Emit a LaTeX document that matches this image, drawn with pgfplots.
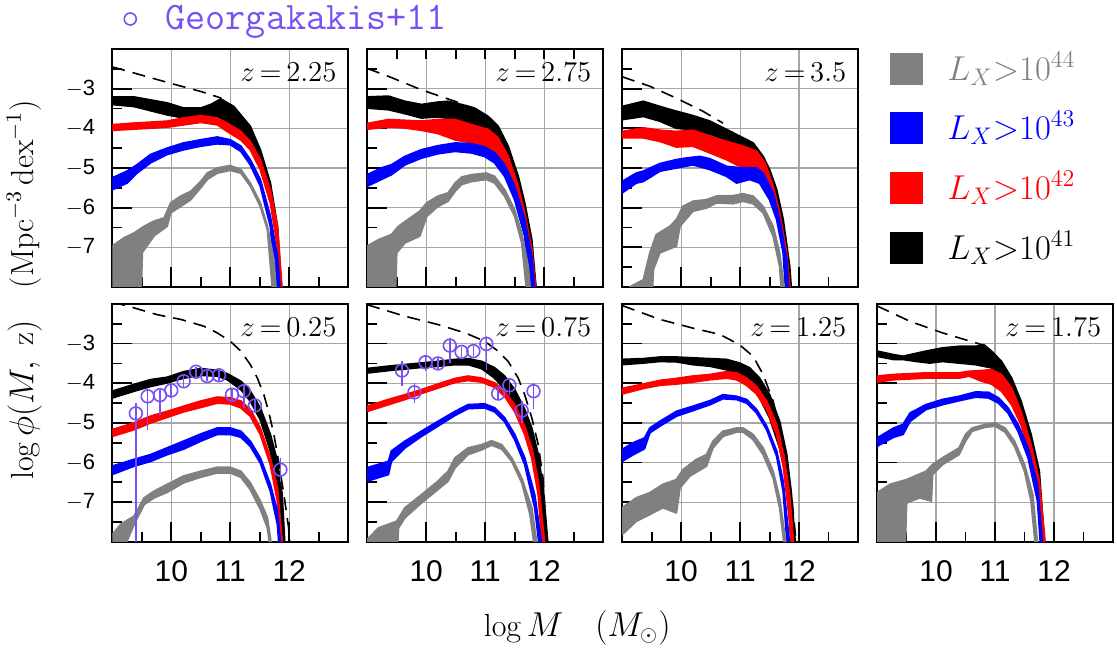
\documentclass[border=0pt]{standalone}
\usepackage{fontspec}
\usepackage{pgfplots}
\pgfplotsset{compat=1.18}
\setsansfont{Liberation Sans}
\definecolor{gk}{RGB}{120,80,245}
\definecolor{bgray}{RGB}{128,128,128}
\definecolor{bblue}{RGB}{0,0,255}
\definecolor{bred}{RGB}{255,0,0}
\pgfplotsset{
 panel/.style={
  scale only axis, width=118pt, height=119pt, anchor=south west,
  xmin=9, xmax=13, ymin=-8, ymax=-2,
  xtick={10,11,12}, ytick={-7,-6,-5,-4,-3},
  minor xtick={9.5,10.5,11.5,12.5},
  minor ytick={-7.5,-6.5,-5.5,-4.5,-3.5,-2.5},
  tick pos=left, tick align=inside,
  major tick length=10pt, minor tick length=5pt,
  xmajorgrids, ymajorgrids,
  major grid style={draw=black!35, line width=0.6pt},
  axis line style={line width=1.1pt},
  every tick/.append style={black, line width=0.9pt},
  xticklabels={}, yticklabels={},
  xticklabel style={font=\sffamily\fontsize{15}{15}\selectfont, anchor=center, yshift=-14.5pt},
  yticklabel style={font=\sffamily\fontsize{11}{11}\selectfont, anchor=east, xshift=-5pt},
 },
 xlab/.style={xticklabels={10,11,12}},
 ylab/.style={yticklabels={$-$7,$-$6,$-$5,$-$4,$-$3}},
 bgr/.style={fill=bgray, draw=bgray, line width=0.9pt, line join=round},
 bbl/.style={fill=bblue, draw=bblue, line width=0.9pt, line join=round},
 brd/.style={fill=bred, draw=bred, line width=0.9pt, line join=round},
 bbk/.style={fill=black, draw=black, line width=0.9pt, line join=round},
 dsh/.style={black, line width=0.8pt, dash pattern=on 6.5pt off 4pt, no marks},
 geo/.style={gk, only marks, mark=o, mark size=3.2pt, line width=0.8pt,
   error bars/.cd, y dir=both, y explicit, error mark=none,
   error bar style={line width=0.8pt, gk}},
}
\newcommand{\zlab}[1]{\node[anchor=east, font=\fontsize{14}{14}\selectfont] at (rel axis cs:0.98,0.903) {$z\,{=}\,#1$};}
\begin{document}
\begin{tikzpicture}
\path (0,0) rectangle (558.5pt,-324pt);
% ---------- z=2.25
\begin{axis}[panel, ylab, at={(56pt,-143.5pt)}]
\addplot[bbk] coordinates {(9,-3.21) (9.37,-3.21) (9.93,-3.36) (10.21,-3.49) (10.5,-3.49) (10.67,-3.40) (10.84,-3.26) (11.06,-3.45) (11.34,-3.95) (11.51,-4.54) (11.68,-5.38) (11.80,-6.47) (11.89,-8.5)
 (11.86,-8.5) (11.80,-6.6) (11.68,-5.6) (11.51,-4.85) (11.34,-4.35) (11.18,-4.1) (10.95,-3.87) (10.78,-3.78) (10.5,-3.70) (10.21,-3.74) (9.93,-3.66) (9.37,-3.45) (9,-3.40)};
\addplot[brd] coordinates {(9,-3.91) (9.37,-3.87) (9.93,-3.82) (10.21,-3.74) (10.5,-3.68) (10.78,-3.74) (10.95,-3.87) (11.18,-4.08) (11.34,-4.33) (11.51,-4.79) (11.68,-5.55) (11.80,-6.47) (11.90,-8.5)
 (11.85,-8.5) (11.80,-6.97) (11.68,-5.88) (11.51,-5.04) (11.34,-4.54) (11.18,-4.29) (10.95,-4.08) (10.78,-3.91) (10.5,-3.85) (9.93,-3.97) (9.37,-4.02) (9,-4.05)};
\addplot[bbl] coordinates {(9,-5.25) (9.25,-5.08) (9.42,-4.92) (9.65,-4.66) (9.93,-4.50) (10.21,-4.37) (10.5,-4.29) (10.78,-4.22) (11.0,-4.29) (11.18,-4.45) (11.34,-4.79) (11.51,-5.29) (11.68,-6.22) (11.80,-7.23) (11.87,-8.5)
 (11.80,-8.5) (11.68,-6.47) (11.51,-5.46) (11.34,-4.92) (11.18,-4.58) (11.0,-4.41) (10.78,-4.39) (10.5,-4.45) (10.21,-4.54) (9.93,-4.66) (9.65,-4.87) (9.42,-5.13) (9.25,-5.38) (9,-5.55)};
\addplot[bgr] coordinates {(9,-6.97) (9.2,-6.76) (9.37,-6.64) (9.54,-6.47) (9.71,-6.34) (9.88,-6.26) (9.99,-5.88) (10.16,-5.71) (10.33,-5.59) (10.5,-5.34) (10.61,-5.13) (10.78,-5.0) (11.0,-4.94) (11.18,-5.04) (11.34,-5.38) (11.51,-5.88) (11.63,-6.47) (11.74,-7.31) (11.80,-8.5)
 (11.74,-8.5) (11.63,-6.55) (11.51,-5.97) (11.34,-5.46) (11.18,-5.13) (11.0,-5.06) (10.78,-5.13) (10.61,-5.29) (10.5,-5.50) (10.33,-5.80) (10.16,-5.97) (9.99,-6.13) (9.93,-6.47) (9.71,-6.71) (9.51,-7.13) (9.48,-8.5) (9,-8.5)};
\addplot[dsh] coordinates {(9,-2.45) (9.5,-2.66) (10,-2.87) (10.5,-3.07) (10.85,-3.24)};
\zlab{2.25}
\end{axis}
% ---------- z=2.75
\begin{axis}[panel, at={(183.5pt,-143.5pt)}]
\addplot[bbk] coordinates {(9,-3.21) (9.36,-3.19) (9.64,-3.32) (9.92,-3.40) (10.20,-3.34) (10.37,-3.32) (10.60,-3.40) (10.82,-3.49) (11.05,-3.70) (11.22,-3.95) (11.39,-4.45) (11.56,-5.21) (11.67,-5.88) (11.79,-6.81) (11.89,-8.5)
 (11.84,-8.5) (11.79,-7.31) (11.67,-6.30) (11.56,-5.55) (11.39,-4.79) (11.22,-4.29) (11.05,-4.03) (10.77,-3.91) (10.49,-3.78) (10.20,-3.71) (9.92,-3.74) (9.64,-3.63) (9.36,-3.53) (9,-3.49)};
\addplot[brd] coordinates {(9,-3.88) (9.36,-3.78) (9.64,-3.80) (9.92,-3.82) (10.20,-3.78) (10.49,-3.78) (10.77,-3.91) (11.05,-4.03) (11.22,-4.24) (11.39,-4.71) (11.56,-5.46) (11.67,-6.13) (11.79,-7.06) (11.89,-8.5)
 (11.84,-8.5) (11.79,-7.48) (11.67,-6.47) (11.50,-5.55) (11.33,-4.96) (11.16,-4.66) (10.99,-4.45) (10.77,-4.37) (10.49,-4.29) (10.20,-4.13) (9.92,-4.05) (9.64,-3.99) (9.36,-3.97) (9,-4.02)};
\addplot[bbl] coordinates {(9,-5.17) (9.24,-5.0) (9.41,-4.92) (9.64,-4.71) (9.92,-4.54) (10.20,-4.44) (10.49,-4.37) (10.77,-4.39) (10.99,-4.47) (11.16,-4.62) (11.33,-4.92) (11.50,-5.46) (11.67,-6.30) (11.79,-7.23) (11.87,-8.5)
 (11.79,-8.5) (11.67,-6.72) (11.50,-5.80) (11.33,-5.21) (11.16,-4.87) (10.99,-4.71) (10.77,-4.62) (10.49,-4.58) (10.20,-4.64) (9.92,-4.75) (9.64,-4.92) (9.41,-5.17) (9.24,-5.29) (9,-5.46)};
\addplot[bgr] coordinates {(9,-6.97) (9.19,-6.81) (9.41,-6.68) (9.53,-6.47) (9.69,-6.30) (9.89,-6.09) (10.01,-5.88) (10.20,-5.71) (10.37,-5.63) (10.49,-5.38) (10.60,-5.23) (10.77,-5.17) (11.02,-5.13) (11.16,-5.21) (11.33,-5.55) (11.50,-6.05) (11.62,-6.64) (11.73,-7.48) (11.79,-8.5)
 (11.73,-8.5) (11.62,-6.89) (11.50,-6.22) (11.33,-5.71) (11.16,-5.38) (11.02,-5.29) (10.77,-5.34) (10.60,-5.42) (10.49,-5.59) (10.37,-5.84) (10.20,-5.97) (10.01,-6.22) (9.89,-6.72) (9.64,-6.89) (9.50,-7.14) (9.47,-8.5) (9,-8.5)};
\addplot[dsh] coordinates {(9,-2.49) (9.36,-2.69) (9.92,-3.03) (10.49,-3.32) (10.8,-3.50)};
\zlab{2.75}
\end{axis}
\begin{axis}[at={(183.5pt,-143.5pt)}, anchor=south west, scale only axis, width=118pt, height=119pt,
  xmin=9, xmax=13, ymin=-8, ymax=-2, axis x line*=top, axis y line=none,
  xtick={9.5,10,10.5,11,11.5,12,12.5}, xticklabels={}, tick align=inside,
  major tick length=5pt, every tick/.append style={black, line width=0.9pt},
  axis line style={draw=none}]
\end{axis}
% ---------- z=3.5
\begin{axis}[panel, at={(311pt,-143.5pt)}]
\addplot[bbk] coordinates {(9,-3.45) (9.36,-3.32) (9.64,-3.45) (9.92,-3.57) (10.20,-3.68) (10.49,-3.82) (10.77,-4.03) (11.05,-4.24) (11.22,-4.37) (11.39,-4.71) (11.50,-5.04) (11.62,-5.55) (11.73,-6.30) (11.84,-7.48) (11.89,-8.5)
 (11.81,-8.5) (11.73,-6.7) (11.62,-5.9) (11.50,-5.3) (11.33,-4.79) (11.05,-4.45) (10.77,-4.30) (10.49,-4.15) (10.20,-4.03) (9.92,-4.0) (9.64,-3.82) (9.36,-3.70) (9,-3.78)};
\addplot[brd] coordinates {(9,-4.08) (9.36,-3.99) (9.64,-4.05) (9.92,-4.08) (10.20,-4.05) (10.49,-4.20) (10.77,-4.33) (11.05,-4.45) (11.28,-4.58) (11.42,-4.87) (11.56,-5.46) (11.67,-6.13) (11.79,-7.14) (11.87,-8.5)
 (11.84,-8.5) (11.79,-7.56) (11.67,-6.47) (11.56,-5.71) (11.39,-5.13) (11.16,-5.04) (10.94,-4.92) (10.77,-4.79) (10.49,-4.62) (10.20,-4.45) (9.92,-4.47) (9.64,-4.33) (9.36,-4.24) (9,-4.24)};
\addplot[bbl] coordinates {(9,-5.34) (9.24,-5.13) (9.36,-5.08) (9.64,-4.89) (9.92,-4.79) (10.09,-4.75) (10.32,-4.71) (10.49,-4.77) (10.77,-4.96) (11.05,-5.0) (11.28,-5.0) (11.39,-5.13) (11.56,-5.63) (11.67,-6.30) (11.79,-7.31) (11.84,-8.5)
 (11.79,-8.5) (11.73,-7.14) (11.62,-6.30) (11.50,-5.80) (11.33,-5.38) (11.16,-5.29) (10.94,-5.38) (10.77,-5.21) (10.49,-5.04) (10.20,-4.92) (9.92,-5.0) (9.64,-5.08) (9.36,-5.34) (9.24,-5.38) (9,-5.63)};
\addplot[bgr] coordinates {(9.13,-8.5) (9.13,-8.0) (9.36,-7.82) (9.47,-7.14) (9.58,-6.68) (9.81,-6.47) (9.92,-6.30) (10.03,-5.97) (10.20,-5.84) (10.43,-5.80) (10.60,-5.71) (10.88,-5.70) (11.05,-5.65) (11.22,-5.71) (11.39,-5.97) (11.56,-6.47) (11.67,-7.14) (11.79,-8.5)
 (11.72,-8.5) (11.67,-7.48) (11.56,-6.72) (11.39,-6.13) (11.22,-5.90) (11.05,-5.84) (10.88,-5.90) (10.60,-5.88) (10.43,-6.01) (10.20,-6.09) (9.98,-6.47) (9.92,-6.97) (9.64,-7.14) (9.53,-7.56) (9.50,-8.5)};
\addplot[dsh] coordinates {(9,-2.70) (9.47,-2.94) (9.92,-3.24) (10.37,-3.57) (10.71,-3.87)};
\zlab{3.5}
\end{axis}
% ---------- z=0.25
\begin{axis}[panel, xlab, ylab, at={(56pt,-271pt)}]
\addplot[bbk] coordinates {(9,-4.20) (9.37,-4.03) (9.65,-3.91) (9.93,-3.85) (10.21,-3.71) (10.5,-3.63) (10.78,-3.68) (10.95,-3.76) (11.18,-3.95) (11.34,-4.20) (11.51,-4.62) (11.68,-5.29) (11.80,-5.97) (11.88,-6.81) (11.94,-8.5)
 (11.88,-8.5) (11.80,-6.55) (11.68,-5.71) (11.51,-4.92) (11.34,-4.45) (11.18,-4.16) (10.95,-3.91) (10.78,-3.82) (10.5,-3.80) (10.21,-3.87) (9.93,-3.99) (9.65,-4.08) (9.37,-4.20) (9,-4.37)};
\addplot[brd] coordinates {(9,-5.17) (9.37,-5.0) (9.65,-4.83) (9.93,-4.71) (10.21,-4.58) (10.5,-4.45) (10.78,-4.35) (11.0,-4.37) (11.18,-4.45) (11.34,-4.66) (11.51,-5.13) (11.68,-5.88) (11.80,-6.64) (11.91,-8.5)
 (11.88,-8.5) (11.80,-6.97) (11.68,-6.05) (11.51,-5.29) (11.34,-4.83) (11.18,-4.62) (11.0,-4.52) (10.78,-4.50) (10.5,-4.61) (10.21,-4.72) (9.93,-4.86) (9.65,-5.0) (9.37,-5.17) (9,-5.34)};
\addplot[bbl] coordinates {(9,-6.09) (9.37,-5.92) (9.65,-5.80) (9.93,-5.63) (10.21,-5.46) (10.5,-5.28) (10.78,-5.13) (11.0,-5.13) (11.18,-5.21) (11.34,-5.46) (11.51,-5.88) (11.68,-6.55) (11.80,-7.23) (11.88,-8.5)
 (11.85,-8.5) (11.80,-7.56) (11.68,-6.72) (11.51,-6.01) (11.34,-5.59) (11.18,-5.36) (11.0,-5.29) (10.78,-5.29) (10.5,-5.46) (10.21,-5.66) (9.93,-5.80) (9.65,-5.97) (9.37,-6.09) (9,-6.30)};
\addplot[bgr] coordinates {(9,-7.82) (9.14,-7.56) (9.37,-7.35) (9.54,-6.89) (9.71,-6.72) (9.93,-6.55) (10.21,-6.34) (10.5,-6.22) (10.78,-6.12) (11.0,-6.12) (11.18,-6.22) (11.34,-6.51) (11.51,-6.97) (11.63,-7.39) (11.74,-8.5)
 (11.71,-8.5) (11.63,-7.65) (11.51,-7.18) (11.34,-6.68) (11.18,-6.37) (11.0,-6.26) (10.78,-6.26) (10.5,-6.37) (10.21,-6.51) (9.93,-6.75) (9.71,-6.89) (9.54,-7.06) (9.37,-7.56) (9.1,-8.5) (9,-8.5)};
\addplot[dsh] coordinates {(9,-1.95) (9.37,-2.10) (9.76,-2.27) (10.16,-2.39) (10.55,-2.56) (10.78,-2.73) (11.0,-2.94) (11.18,-3.19) (11.34,-3.53) (11.46,-3.87) (11.57,-4.29) (11.65,-4.71) (11.74,-5.29) (11.82,-5.97) (11.91,-6.81) (11.99,-7.65) (12.03,-8.5)};
\addplot[geo] table[x index=0, y index=1, y error plus index=2, y error minus index=3] {
9.40 -4.76 0.25 4.50
9.60 -4.33 0.21 0.84
9.81 -4.30 0.14 0.49
10.00 -4.18 0.15 0.19
10.21 -3.95 0.15 0.15
10.42 -3.71 0.13 0.13
10.61 -3.82 0.13 0.13
10.81 -3.80 0.14 0.14
11.03 -4.29 0.14 0.14
11.23 -4.20 0.17 0.42
11.42 -4.56 0.13 0.13
11.85 -6.18 0.30 0.30
};
\zlab{0.25}
\end{axis}
% ---------- z=0.75
\begin{axis}[panel, xlab, at={(183.5pt,-271pt)}]
\addplot[bbk] coordinates {(9,-3.63) (9.36,-3.57) (9.92,-3.49) (10.20,-3.45) (10.49,-3.40) (10.71,-3.38) (10.94,-3.45) (11.16,-3.61) (11.33,-3.82) (11.50,-4.16) (11.67,-4.66) (11.79,-5.13) (11.90,-5.80) (11.98,-6.64) (12.09,-8.5)
 (12.0,-8.5) (11.90,-6.64) (11.79,-5.71) (11.67,-5.13) (11.50,-4.54) (11.33,-4.16) (11.16,-3.87) (10.94,-3.63) (10.71,-3.53) (10.49,-3.53) (10.20,-3.57) (9.92,-3.60) (9.36,-3.68) (9,-3.74)};
\addplot[brd] coordinates {(9,-4.58) (9.36,-4.41) (9.64,-4.29) (9.92,-4.16) (10.20,-4.02) (10.49,-3.88) (10.71,-3.82) (10.94,-3.87) (11.16,-3.99) (11.33,-4.20) (11.50,-4.54) (11.67,-5.08) (11.79,-5.63) (11.90,-6.47) (12.04,-8.5)
 (11.99,-8.5) (11.90,-6.81) (11.79,-5.88) (11.67,-5.29) (11.50,-4.71) (11.33,-4.33) (11.16,-4.10) (10.94,-3.97) (10.71,-3.93) (10.49,-3.98) (10.20,-4.12) (9.92,-4.26) (9.64,-4.41) (9.36,-4.54) (9,-4.71)};
\addplot[bbl] coordinates {(9,-6.13) (9.36,-5.97) (9.41,-5.71) (9.64,-5.46) (9.92,-5.21) (10.20,-4.96) (10.49,-4.71) (10.71,-4.54) (10.99,-4.52) (11.16,-4.62) (11.33,-4.87) (11.50,-5.29) (11.67,-5.88) (11.84,-6.81) (12.0,-8.5)
 (11.95,-8.5) (11.84,-7.14) (11.67,-6.05) (11.50,-5.42) (11.33,-4.97) (11.16,-4.72) (10.99,-4.62) (10.71,-4.64) (10.49,-4.81) (10.20,-5.08) (9.92,-5.34) (9.64,-5.63) (9.41,-5.97) (9.36,-6.30) (9,-6.47)};
\addplot[bgr] coordinates {(9,-7.94) (9.19,-7.65) (9.50,-7.48) (9.64,-7.14) (9.92,-6.81) (10.20,-6.47) (10.37,-6.22) (10.49,-5.88) (10.71,-5.63) (10.94,-5.55) (11.11,-5.45) (11.28,-5.55) (11.45,-5.88) (11.62,-6.39) (11.79,-7.14) (11.92,-8.5)
 (11.87,-8.5) (11.76,-7.31) (11.62,-6.51) (11.45,-5.97) (11.28,-5.66) (11.11,-5.56) (10.94,-5.68) (10.71,-5.80) (10.49,-6.13) (10.37,-6.47) (10.20,-6.68) (9.92,-7.02) (9.64,-7.39) (9.53,-7.65) (9.50,-8.5) (9,-8.5)};
\addplot[dsh] coordinates {(9,-2.02) (9.64,-2.31) (10.20,-2.52) (10.66,-2.73) (10.99,-2.94) (11.22,-3.19) (11.39,-3.45) (11.56,-3.87) (11.67,-4.29) (11.79,-4.87) (11.90,-5.55) (11.98,-6.39) (12.07,-8.5)};
\addplot[geo] table[x index=0, y index=1, y error plus index=2, y error minus index=3] {
9.59 -3.68 0.24 0.39
9.80 -4.23 0.24 0.27
9.99 -3.47 0.15 0.23
10.20 -3.50 0.15 0.15
10.40 -3.05 0.19 0.44
10.60 -3.21 0.13 0.13
10.80 -3.19 0.13 0.13
11.02 -3.01 0.19 0.65
11.22 -4.26 0.15 0.15
11.41 -4.05 0.18 0.24
11.62 -4.69 0.24 0.31
11.82 -4.20 0.21 0.46
};
\zlab{0.75}
\end{axis}
% ---------- z=1.25
\begin{axis}[panel, xlab, at={(311pt,-271pt)}]
\addplot[bbk] coordinates {(9,-3.40) (9.36,-3.38) (9.64,-3.34) (9.92,-3.34) (10.20,-3.36) (10.49,-3.38) (10.77,-3.40) (10.99,-3.49) (11.16,-3.61) (11.33,-3.87) (11.50,-4.29) (11.67,-4.96) (11.79,-5.80) (11.87,-6.81) (11.96,-8.5)
 (11.89,-8.5) (11.79,-6.47) (11.67,-5.63) (11.50,-4.87) (11.33,-4.37) (11.16,-4.03) (10.99,-3.78) (10.77,-3.66) (10.49,-3.57) (10.20,-3.53) (9.92,-3.46) (9.64,-3.45) (9.36,-3.49) (9,-3.53)};
\addplot[brd] coordinates {(9,-4.13) (9.36,-4.02) (9.64,-3.93) (9.92,-3.88) (10.20,-3.82) (10.49,-3.78) (10.77,-3.71) (10.94,-3.74) (11.11,-3.87) (11.28,-4.08) (11.45,-4.45) (11.62,-5.04) (11.73,-5.71) (11.84,-6.81) (11.93,-8.5)
 (11.89,-8.5) (11.84,-7.48) (11.73,-6.05) (11.62,-5.29) (11.45,-4.66) (11.28,-4.27) (11.11,-4.05) (10.94,-3.91) (10.77,-3.87) (10.49,-3.91) (10.20,-3.97) (9.92,-4.02) (9.64,-4.05) (9.36,-4.13) (9,-4.27)};
\addplot[bbl] coordinates {(9,-5.67) (9.19,-5.50) (9.38,-5.38) (9.47,-5.13) (9.64,-4.96) (9.92,-4.71) (10.20,-4.58) (10.49,-4.44) (10.71,-4.29) (10.94,-4.33) (11.11,-4.41) (11.28,-4.66) (11.45,-5.08) (11.62,-5.71) (11.73,-6.47) (11.87,-8.5)
 (11.82,-8.5) (11.73,-6.72) (11.62,-5.84) (11.45,-5.17) (11.28,-4.75) (11.11,-4.50) (10.94,-4.41) (10.71,-4.39) (10.49,-4.54) (10.20,-4.69) (9.92,-4.83) (9.64,-5.08) (9.47,-5.25) (9.38,-5.65) (9.19,-5.80) (9,-5.97)};
\addplot[bgr] coordinates {(9,-7.14) (9.24,-6.89) (9.47,-6.76) (9.69,-6.55) (9.92,-6.43) (10.03,-6.18) (10.26,-5.92) (10.43,-5.80) (10.54,-5.46) (10.71,-5.21) (10.94,-5.13) (11.05,-5.13) (11.22,-5.29) (11.39,-5.63) (11.56,-6.22) (11.67,-6.89) (11.82,-8.5)
 (11.78,-8.5) (11.67,-7.14) (11.56,-6.39) (11.39,-5.80) (11.22,-5.42) (11.05,-5.23) (10.94,-5.23) (10.71,-5.34) (10.54,-5.63) (10.43,-6.09) (10.15,-6.34) (9.98,-6.64) (9.92,-7.27) (9.69,-7.14) (9.47,-7.31) (9.24,-7.48) (9,-7.82)};
\addplot[dsh] coordinates {(9,-2.04) (9.64,-2.39) (10.20,-2.61) (10.66,-2.77) (10.99,-3.03) (11.22,-3.32) (11.39,-3.78) (11.56,-4.45) (11.67,-5.13) (11.79,-5.97) (11.87,-6.81) (11.95,-8.0) (11.98,-8.5)};
\zlab{1.25}
\end{axis}
% ---------- z=1.75
\begin{axis}[panel, xlab, at={(438.5pt,-271pt)}]
\addplot[bbk] coordinates {(9,-3.19) (9.28,-3.28) (9.44,-3.32) (9.83,-3.19) (10.11,-3.11) (10.39,-3.07) (10.67,-3.07) (10.81,-3.03) (10.94,-3.19) (11.11,-3.45) (11.28,-3.87) (11.44,-4.45) (11.61,-5.29) (11.75,-6.22) (11.86,-8.5)
 (11.83,-8.5) (11.78,-6.97) (11.61,-5.63) (11.44,-4.79) (11.28,-4.20) (11.11,-3.87) (10.94,-3.61) (10.67,-3.53) (10.39,-3.49) (10.11,-3.45) (9.89,-3.49) (9.67,-3.45) (9.44,-3.40) (9.28,-3.40) (9,-3.32)};
\addplot[brd] coordinates {(9,-3.82) (9.28,-3.78) (9.83,-3.74) (10.11,-3.74) (10.39,-3.74) (10.56,-3.70) (10.78,-3.68) (10.94,-3.66) (11.11,-3.78) (11.28,-4.12) (11.44,-4.71) (11.61,-5.55) (11.75,-6.47) (11.88,-8.5)
 (11.83,-8.5) (11.75,-6.97) (11.61,-5.88) (11.44,-5.04) (11.28,-4.54) (11.11,-4.20) (10.94,-4.02) (10.78,-3.95) (10.56,-3.82) (10.39,-3.87) (10.11,-3.87) (9.83,-3.87) (9.28,-3.91) (9,-3.97)};
\addplot[bbl] coordinates {(9,-5.38) (9.28,-5.13) (9.44,-5.04) (9.56,-4.75) (9.83,-4.54) (10.11,-4.41) (10.39,-4.33) (10.67,-4.22) (10.89,-4.23) (11.06,-4.37) (11.22,-4.62) (11.39,-5.04) (11.56,-5.63) (11.72,-6.55) (11.83,-8.5)
 (11.79,-8.5) (11.72,-6.97) (11.56,-5.88) (11.39,-5.21) (11.22,-4.75) (11.06,-4.50) (10.89,-4.37) (10.67,-4.35) (10.39,-4.44) (10.11,-4.54) (9.83,-4.66) (9.56,-4.96) (9.44,-5.29) (9.28,-5.36) (9,-5.59)};
\addplot[bgr] coordinates {(9,-6.76) (9.22,-6.55) (9.5,-6.43) (9.83,-6.22) (9.94,-6.05) (10.11,-5.88) (10.39,-5.63) (10.5,-5.29) (10.61,-5.13) (10.83,-5.04) (11.0,-5.0) (11.17,-5.13) (11.33,-5.46) (11.5,-6.05) (11.64,-6.81) (11.75,-8.5)
 (11.71,-8.5) (11.61,-6.97) (11.5,-6.22) (11.33,-5.59) (11.17,-5.23) (11.0,-5.08) (10.83,-5.11) (10.61,-5.21) (10.5,-5.46) (10.39,-5.80) (10.11,-6.05) (9.94,-6.30) (9.92,-6.97) (9.72,-6.89) (9.5,-7.02) (9.47,-8.5) (9,-8.5)};
\addplot[dsh] coordinates {(9,-2.05) (9.56,-2.44) (10.11,-2.73) (10.78,-3.03)};
\zlab{1.75}
\end{axis}
% ---------- legend and labels
\fill[bgray] (445pt,-26.5pt) rectangle ++(16.5pt,-16pt);
\fill[bblue] (445pt,-56pt) rectangle ++(16.5pt,-16pt);
\fill[bred] (445pt,-86pt) rectangle ++(16.5pt,-16pt);
\fill[black] (445pt,-116pt) rectangle ++(16.5pt,-16pt);
\begin{scope}[every node/.style={anchor=west, font=\fontsize{18}{18}\selectfont, inner sep=0pt}]
\node[bgray] at (473.5pt,-34.5pt) {$L_X{>}10^{44}$};
\node[bblue] at (473.5pt,-64pt) {$L_X{>}10^{43}$};
\node[bred] at (473.5pt,-94pt) {$L_X{>}10^{42}$};
\node[black] at (473.5pt,-124pt) {$L_X{>}10^{41}$};
\end{scope}
\draw[gk, line width=0.8pt] (65pt,-9.5pt) circle (3pt);
\node[gk, anchor=base west, inner sep=0pt, font=\ttfamily\fontsize{19.5}{20}\selectfont] at (82.5pt,-15pt) {Georgakakis+11};
\node[rotate=90, font=\fontsize{16}{16}\selectfont] at (12pt,-145pt) {$\log\phi(M,\ \mathrm{z})$\quad(Mpc$^{-3}$\,dex$^{-1}$)};
\node[font=\fontsize{16}{16}\selectfont] at (288.5pt,-314pt) {$\log M\quad(M_\odot)$};
\end{tikzpicture}
\end{document}
